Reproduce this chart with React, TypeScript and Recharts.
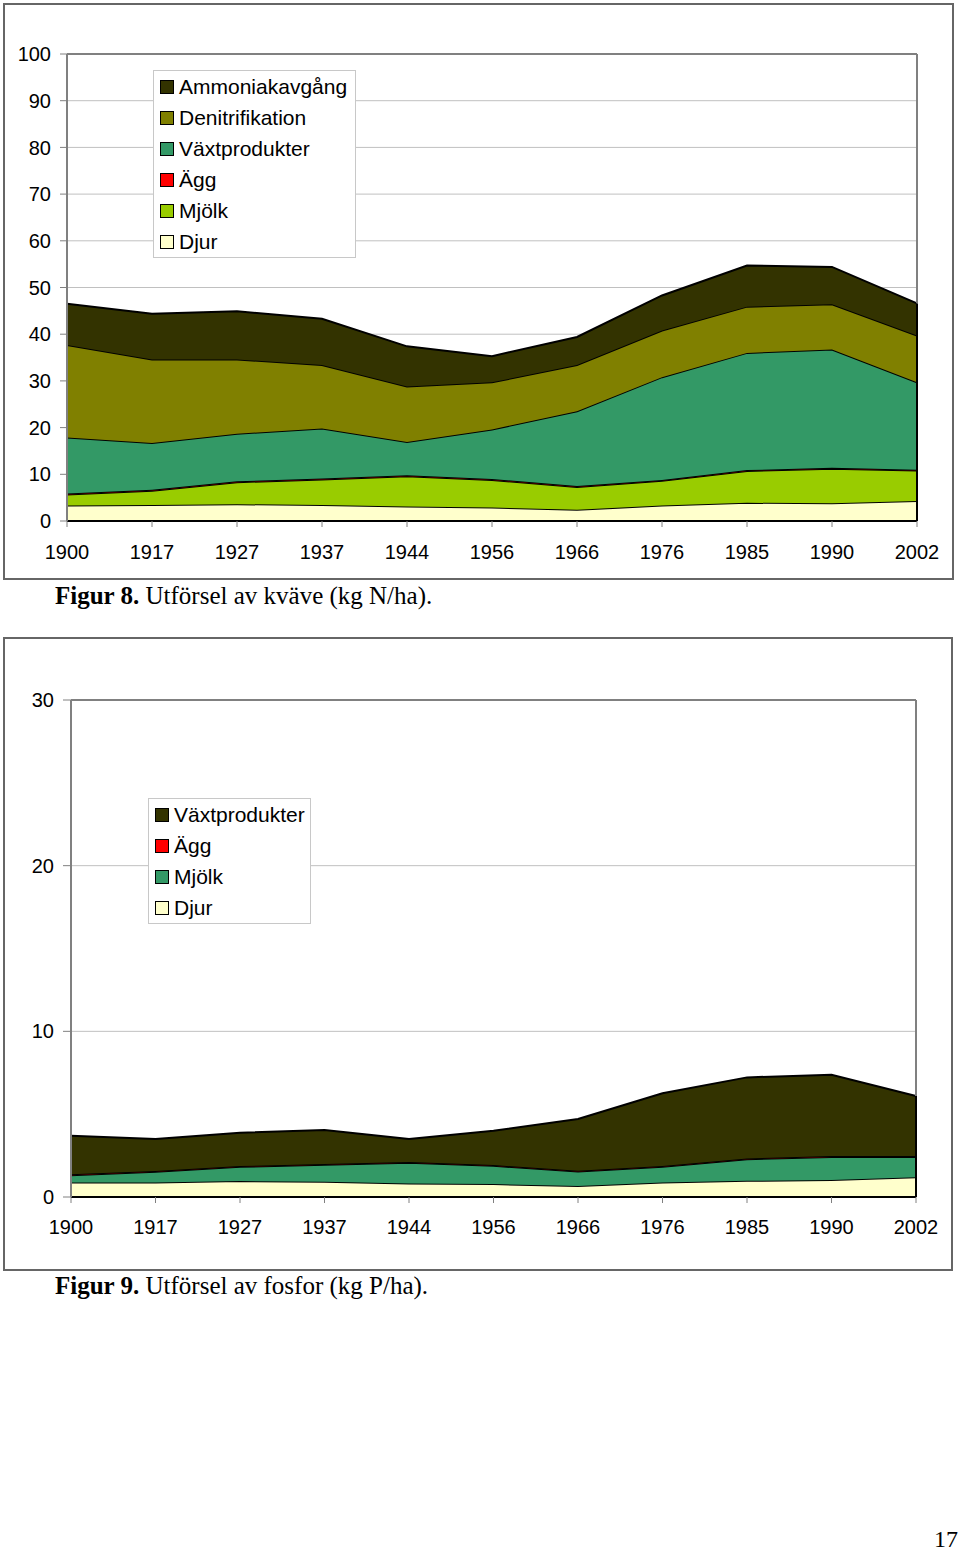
import { AreaChart, Area, XAxis, YAxis, CartesianGrid, ReferenceLine } from "recharts";

const years = ["1900", "1917", "1927", "1937", "1944", "1956", "1966", "1976", "1985", "1990", "2002"];

// Figur 8 – kväve (kg N/ha)
const nDjur = [3.3, 3.4, 3.6, 3.4, 3.1, 2.9, 2.4, 3.3, 3.9, 3.8, 4.3];
const nMjolk = [2.4, 3.1, 4.7, 5.5, 6.5, 5.9, 4.9, 5.3, 6.8, 7.4, 6.5];
const nAgg = [0.2, 0.2, 0.2, 0.2, 0.2, 0.2, 0.2, 0.2, 0.2, 0.2, 0.2];
const nVaxt = [12.0, 10.0, 10.2, 10.7, 7.1, 10.6, 16.0, 22.0, 25.1, 25.3, 18.7];
const nDenitr = [19.8, 17.9, 15.9, 13.6, 11.9, 10.1, 9.9, 10.0, 9.9, 9.7, 10.0];
const nAmmoniak = [8.8, 9.8, 10.3, 9.9, 8.6, 5.6, 6.0, 7.5, 8.8, 8.0, 6.9];
const nTicks = [0, 10, 20, 30, 40, 50, 60, 70, 80, 90, 100];

// Figur 9 – fosfor (kg P/ha)
const pDjur = [0.88, 0.88, 0.96, 0.92, 0.82, 0.78, 0.66, 0.88, 0.98, 1.02, 1.19];
const pMjolk = [0.44, 0.64, 0.86, 1.02, 1.24, 1.1, 0.88, 0.94, 1.3, 1.4, 1.23];
const pAgg = [0.05, 0.05, 0.05, 0.05, 0.05, 0.05, 0.05, 0.05, 0.05, 0.05, 0.05];
const pVaxt = [2.33, 1.93, 2.01, 2.05, 1.39, 2.07, 3.12, 4.39, 4.89, 4.91, 3.63];
const pTicks = [0, 10, 20, 30];

const nSeries = [
  { key: "Djur", color: "#ffffcc", values: nDjur },
  { key: "Mjölk", color: "#99cc00", values: nMjolk },
  { key: "Ägg", color: "#ff0000", values: nAgg },
  { key: "Växtprodukter", color: "#339966", values: nVaxt },
  { key: "Denitrifikation", color: "#808000", values: nDenitr },
  { key: "Ammoniakavgång", color: "#333300", values: nAmmoniak },
];

const pSeries = [
  { key: "Djur", color: "#ffffcc", values: pDjur },
  { key: "Mjölk", color: "#339966", values: pMjolk },
  { key: "Ägg", color: "#ff0000", values: pAgg },
  { key: "Växtprodukter", color: "#333300", values: pVaxt },
];

type Series = { key: string; color: string; values: number[] };

const toRows = (series: Series[]) =>
  years.map((year, i) => {
    const row: Record<string, string | number> = { year };
    series.forEach((s) => (row[s.key] = s.values[i]));
    return row;
  });

const stackTotal = (series: Series[], i: number) => series.reduce((sum, s) => sum + s.values[i], 0);

const font = "'Liberation Sans', Arial, sans-serif";
const tickStyle = { fontSize: 20, fill: "#000", fontFamily: font };

const LegendBox = ({ series, left, top, width }: { series: Series[]; left: number; top: number; width: number }) => (
  <div
    style={{
      position: "absolute",
      left,
      top,
      width,
      border: "1px solid #c8c8c8",
      background: "#fff",
      padding: "0 0 0 6px",
      boxSizing: "border-box",
      fontFamily: font,
      fontSize: 21,
    }}
  >
    {[...series].reverse().map((s) => (
      <div key={s.key} style={{ display: "flex", alignItems: "center", height: 31 }}>
        <span
          style={{
            width: 12,
            height: 12,
            background: s.color,
            border: "1.5px solid #000",
            marginRight: 5,
            flexShrink: 0,
          }}
        />
        {s.key}
      </div>
    ))}
  </div>
);

const StackChart = (props: {
  series: Series[];
  ticks: number[];
  width: number;
  height: number;
  margin: { top: number; right: number; bottom: number; left: number };
  tickSize: number;
  xTickMargin: number;
}) => {
  const { series, ticks, width, height, margin, tickSize, xTickMargin } = props;
  const max = ticks[ticks.length - 1];
  const first = years[0];
  const last = years[years.length - 1];
  const firstTotal = stackTotal(series, 0);
  const lastTotal = stackTotal(series, years.length - 1);
  return (
    <AreaChart width={width} height={height} data={toRows(series)} margin={margin}>
      <CartesianGrid vertical={false} stroke="#c0c0c0" strokeWidth={1} />
      <XAxis
        dataKey="year"
        padding={{ left: 0, right: 0 }}
        height={40}
        tick={tickStyle}
        tickSize={6}
        tickMargin={xTickMargin}
        axisLine={{ stroke: "#000", strokeWidth: 2 }}
        tickLine={{ stroke: "#808080" }}
        interval={0}
      />
      <YAxis
        width={60}
        domain={[0, max]}
        ticks={ticks}
        tick={tickStyle}
        tickSize={tickSize}
        tickMargin={9}
        axisLine={{ stroke: "#808080", strokeWidth: 2 }}
        tickLine={{ stroke: "#808080" }}
        allowDataOverflow
      />
      <ReferenceLine y={max} stroke="#808080" strokeWidth={2} />
      <ReferenceLine segment={[{ x: last, y: lastTotal }, { x: last, y: max }]} stroke="#808080" strokeWidth={2} />
      {series.map((s) => (
        <Area
          key={s.key}
          type="linear"
          dataKey={s.key}
          stackId="1"
          fill={s.color}
          fillOpacity={1}
          stroke="#000"
          strokeWidth={2}
          dot={false}
          activeDot={false}
          isAnimationActive={false}
        />
      ))}
      <ReferenceLine segment={[{ x: first, y: 0 }, { x: first, y: firstTotal }]} stroke="#000" strokeWidth={2} />
      <ReferenceLine segment={[{ x: last, y: 0 }, { x: last, y: lastTotal }]} stroke="#000" strokeWidth={2} />
    </AreaChart>
  );
};

const captionStyle = {
  position: "absolute" as const,
  left: 55,
  fontFamily: "'Liberation Serif', 'Times New Roman', serif",
  fontSize: 25,
  color: "#000",
  whiteSpace: "nowrap" as const,
};

export default function App() {
  return (
    <div style={{ position: "absolute", left: 0, top: 0, width: 960, height: 1551, background: "#fff" }}>
      {/* Figur 8 */}
      <div style={{ position: "absolute", left: 3, top: 3, width: 951, height: 577, border: "2px solid #666", boxSizing: "border-box" }} />
      <div style={{ position: "absolute", left: 0, top: 0 }}>
        <StackChart
          series={nSeries}
          ticks={nTicks}
          width={960}
          height={580}
          margin={{ top: 54, right: 43, bottom: 19, left: 7 }}
          tickSize={7}
          xTickMargin={18}
        />
      </div>
      <LegendBox series={nSeries} left={153} top={70} width={203} />
      <div style={{ ...captionStyle, top: 582 }}>
        <b>Figur 8.</b> Utförsel av kväve (kg N/ha).
      </div>

      {/* Figur 9 */}
      <div style={{ position: "absolute", left: 3, top: 637, width: 950, height: 634, border: "2px solid #666", boxSizing: "border-box" }} />
      <div style={{ position: "absolute", left: 0, top: 640 }}>
        <StackChart
          series={pSeries}
          ticks={pTicks}
          width={960}
          height={630}
          margin={{ top: 60, right: 44, bottom: 33, left: 11 }}
          tickSize={8}
          xTickMargin={17}
        />
      </div>
      <LegendBox series={pSeries} left={148} top={798} width={163} />
      <div style={{ ...captionStyle, top: 1272 }}>
        <b>Figur 9.</b> Utförsel av fosfor (kg P/ha).
      </div>

      <div
        style={{
          position: "absolute",
          right: 2,
          top: 1526,
          fontFamily: "'Liberation Serif', 'Times New Roman', serif",
          fontSize: 24,
        }}
      >
        17
      </div>
    </div>
  );
}
